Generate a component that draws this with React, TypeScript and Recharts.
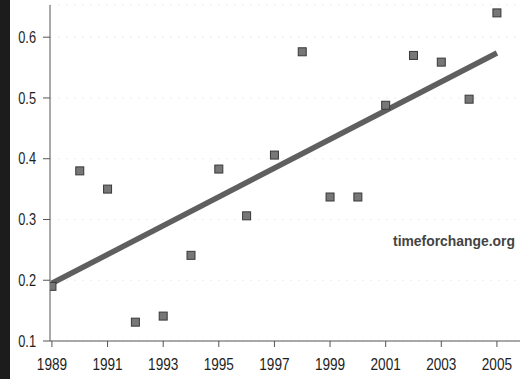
import { CartesianGrid, Scatter, ScatterChart, XAxis, YAxis } from "recharts";

const years = [1989, 1990, 1991, 1992, 1993, 1994, 1995, 1996, 1997, 1998, 1999, 2000, 2001, 2002, 2003, 2004, 2005];
const values = [0.19, 0.38, 0.35, 0.131, 0.141, 0.241, 0.383, 0.306, 0.406, 0.576, 0.337, 0.337, 0.488, 0.57, 0.559, 0.498, 0.64];

// trend line end points
const trendYears = [1989, 2005];
const trendValues = [0.195, 0.574];

const xTicks = [1989, 1991, 1993, 1995, 1997, 1999, 2001, 2003, 2005];
const yTicks = [0.1, 0.2, 0.3, 0.4, 0.5, 0.6];

const points = years.map((year, i) => ({ year, value: values[i] }));
const trend = trendYears.map((year, i) => ({ year, value: trendValues[i] }));

const font = '"Liberation Sans", Arial, sans-serif';

// condensed look of the original labels
const XTick = (props: any) => {
  const { x, y, payload } = props;
  return (
    <g transform={`translate(${x},${y})`}>
      <text transform="scale(0.8,1)" dy="0.71em" textAnchor="middle" fontFamily={font} fontSize={17} fill="#1e1e1e">
        {payload.value}
      </text>
    </g>
  );
};

const YTick = (props: any) => {
  const { x, y, payload } = props;
  return (
    <g transform={`translate(${x},${y})`}>
      <text transform="scale(0.8,1)" dy="0.355em" textAnchor="end" fontFamily={font} fontSize={16} fill="#1e1e1e">
        {payload.value.toFixed(1)}
      </text>
    </g>
  );
};

const Square = (props: any) => {
  const { cx, cy } = props;
  if (cx == null || cy == null) return null;
  return (
    <rect x={cx - 4} y={cy - 4} width={8} height={8} fill="#777" stroke="#383838" strokeWidth={1} />
  );
};

export default function App() {
  return (
    <div style={{ position: "absolute", left: 0, top: 0, width: 520, height: 379, background: "#fff" }}>
      <div style={{ position: "absolute", left: 0, top: 0, width: 10, height: 379, background: "#1c1c1c" }} />
      <ScatterChart width={520} height={379} margin={{ top: 5, right: 0, left: 0, bottom: 0 }}>
        <CartesianGrid vertical={false} stroke="#ececec" strokeDasharray="2 6" />
        <XAxis
          type="number"
          dataKey="year"
          domain={[1988.93, 2005.83]}
          ticks={xTicks}
          height={38}
          tickSize={6}
          tickMargin={11}
          tick={<XTick />}
          stroke="#555"
          allowDataOverflow
        />
        <YAxis
          type="number"
          dataKey="value"
          domain={[0.1, 0.653]}
          ticks={yTicks}
          width={50}
          tickSize={7}
          tickMargin={7}
          tick={<YTick />}
          stroke="#555"
          allowDataOverflow
        />
        <Scatter
          data={trend}
          line={{ stroke: "#5f5f5f", strokeWidth: 5.5 }}
          shape={() => null}
          isAnimationActive={false}
        />
        <Scatter data={points} shape={Square} isAnimationActive={false} />
      </ScatterChart>
      <svg width={520} height={379} style={{ position: "absolute", left: 0, top: 0, pointerEvents: "none" }}>
        <text
          x={393}
          y={246}
          textLength={122}
          lengthAdjust="spacingAndGlyphs"
          fontFamily={font}
          fontWeight="bold"
          fontSize={14}
          fill="#444"
        >
          timeforchange.org
        </text>
      </svg>
    </div>
  );
}
